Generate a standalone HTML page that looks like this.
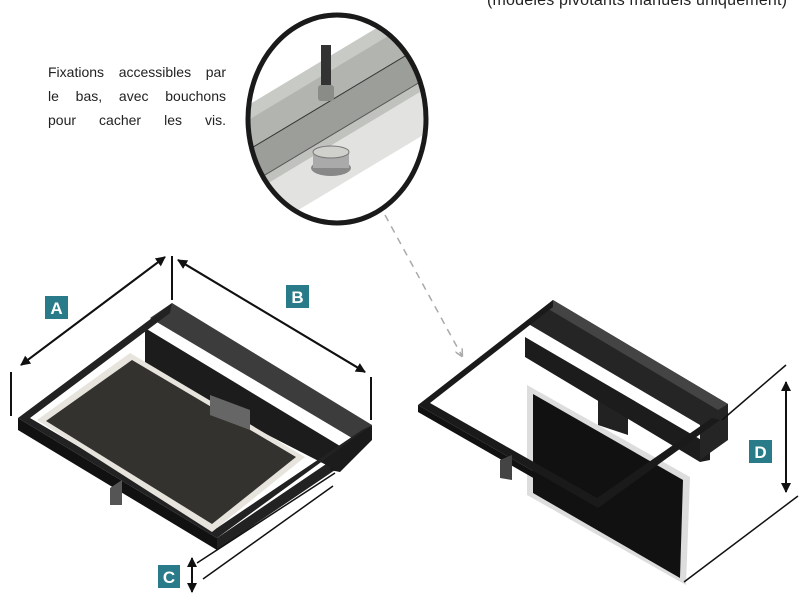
<!DOCTYPE html>
<html><head><meta charset="utf-8"><style>
html,body{margin:0;padding:0;background:#fff;}
svg{display:block;position:absolute;left:0;top:0}
.p{position:absolute;left:48px;top:60px;width:178px;font-family:"Liberation Sans",sans-serif;font-size:14px;line-height:24px;color:#222;z-index:2}
.p div{text-align:justify;text-align-last:justify;height:24px}
.top{position:absolute;left:487px;top:-9px;font-family:"Liberation Sans",sans-serif;font-size:16px;line-height:20px;color:#222;white-space:nowrap;letter-spacing:0.2px;z-index:2}
.lab{font-family:"Liberation Sans",sans-serif;font-size:17px;font-weight:bold;fill:#fff}
</style></head><body>
<div class="top">(modèles pivotants manuels uniquement)</div>
<div class="p"><div>Fixations accessibles par</div><div>le bas, avec bouchons</div><div>pour cacher les vis.</div></div>
<svg width="800" height="600" viewBox="0 0 800 600" xmlns="http://www.w3.org/2000/svg">
<defs>
<marker id="ar" markerWidth="10" markerHeight="10" refX="9" refY="5" orient="auto" markerUnits="userSpaceOnUse"><path d="M0,0 L10,5 L0,10 z" fill="#111"/></marker>
<marker id="ag" markerWidth="8" markerHeight="8" refX="7" refY="4" orient="auto" markerUnits="userSpaceOnUse"><path d="M0,0 L8,4 L0,8" fill="none" stroke="#aaa" stroke-width="1.5"/></marker>
<clipPath id="cc"><ellipse cx="337" cy="119" rx="89" ry="104"/></clipPath>
</defs>

<g clip-path="url(#cc)">
<rect x="240" y="10" width="200" height="220" fill="#fff"/>
<polygon points="240,110 440,-10 440,40 240,160" fill="#c8cac6"/>
<polygon points="240,125 440,5 440,75 240,195" fill="#b2b4b0"/>
<polygon points="240,155 440,35 440,110 240,230" fill="#9c9e9a"/>
<polygon points="240,190 440,70 440,120 240,240" fill="#c0c2be"/>
<polygon points="240,200 440,80 440,125 240,245" fill="#e2e3e0"/>
<line x1="240" y1="155" x2="440" y2="35" stroke="#333" stroke-width="1"/>
<line x1="240" y1="190" x2="440" y2="70" stroke="#555" stroke-width="1"/>
<rect x="321" y="45" width="10" height="42" fill="#333"/>
<rect x="318" y="85" width="16" height="16" rx="3" fill="#8a8c88"/>
<ellipse cx="331" cy="168" rx="20" ry="8" fill="#888"/>
<rect x="313" y="152" width="36" height="16" fill="#aaa"/>
<ellipse cx="331" cy="152" rx="18" ry="6" fill="#d0d0cc" stroke="#777"/>
</g>
<ellipse cx="337" cy="119" rx="89" ry="104" fill="none" stroke="#1a1a1a" stroke-width="5"/>
<line x1="385" y1="215" x2="462" y2="356" stroke="#aaa" stroke-width="1.5" stroke-dasharray="7,6" marker-end="url(#ag)"/>

<polygon points="18,418 18,430 217,550 217,538" fill="#111"/>
<polygon points="217,550 217,538 335,458 335,470" fill="#222"/>
<polygon points="335,450 372,425 372,440 340,472 330,470" fill="#1a1a1a"/>
<polygon points="145,328 340,446 340,472 145,372" fill="#1c1c1c"/>
<polygon points="172,303 372,425 352,438 150,318" fill="#3c3c3c"/>
<polygon points="172,303 18,418 217,538 372,425 362,430 217,528 30,418 170,313" fill="#222"/>
<polygon points="130,353 37,420 212,532 305,457" fill="#e6e4dc"/>
<polygon points="132,360 46,421 212,524 296,457" fill="#33322e"/>
<polygon points="210,395 250,410 250,430 210,415" fill="#666"/>
<polygon points="110,488 122,480 122,505 110,505" fill="#555"/>

<line x1="21" y1="365" x2="165" y2="257" stroke="#111" stroke-width="2" marker-end="url(#ar)"/>
<line x1="165" y1="257" x2="21" y2="365" stroke="#111" stroke-width="2" marker-end="url(#ar)"/>
<line x1="11" y1="372" x2="11" y2="416" stroke="#111" stroke-width="2"/>
<line x1="172" y1="256" x2="172" y2="300" stroke="#111" stroke-width="2"/>
<line x1="178" y1="260" x2="365" y2="372" stroke="#111" stroke-width="2" marker-end="url(#ar)"/>
<line x1="365" y1="372" x2="178" y2="260" stroke="#111" stroke-width="2" marker-end="url(#ar)"/>
<line x1="371" y1="377" x2="371" y2="420" stroke="#111" stroke-width="2"/>
<line x1="197" y1="563" x2="335" y2="473" stroke="#111" stroke-width="1.5"/>
<line x1="203" y1="579" x2="333" y2="486" stroke="#111" stroke-width="1.5"/>
<line x1="192" y1="558" x2="192" y2="592" stroke="#111" stroke-width="2" marker-end="url(#ar)"/>
<line x1="192" y1="592" x2="192" y2="558" stroke="#111" stroke-width="2" marker-end="url(#ar)"/>
<rect x="45" y="296" width="23" height="23" fill="#2a7b8a"/><text class="lab" x="56.5" y="314" text-anchor="middle">A</text>
<rect x="286" y="285" width="23" height="23" fill="#2a7b8a"/><text class="lab" x="297.5" y="303" text-anchor="middle">B</text>
<rect x="158" y="565" width="22" height="23" fill="#2a7b8a"/><text class="lab" x="169" y="583" text-anchor="middle">C</text>

<polygon points="527,385 690,477 686,585 527,495" fill="#ddd"/>
<polygon points="533,394 683,480 680,578 533,493" fill="#111"/>
<polygon points="598,395 628,405 628,435 598,425" fill="#222"/>
<polygon points="525,337 710,445 710,460 700,462 525,357" fill="#1c1c1c"/>
<polygon points="553,300 728,404 728,440 700,460 700,425 525,322" fill="#252525"/>
<polygon points="553,300 728,404 718,410 545,307" fill="#444"/>
<polygon points="553,300 418,405 598,508 720,420 712,418 597,498 430,403 553,307" fill="#1a1a1a"/>
<polygon points="418,405 418,412 598,515 598,508" fill="#111"/>
<polygon points="500,460 512,455 512,480 500,478" fill="#444"/>

<line x1="722" y1="420" x2="786" y2="365" stroke="#111" stroke-width="1.5"/>
<line x1="684" y1="582" x2="798" y2="496" stroke="#111" stroke-width="1.5"/>
<line x1="786" y1="382" x2="786" y2="492" stroke="#111" stroke-width="2" marker-end="url(#ar)"/>
<line x1="786" y1="492" x2="786" y2="382" stroke="#111" stroke-width="2" marker-end="url(#ar)"/>
<rect x="749" y="440" width="23" height="23" fill="#2a7b8a"/><text class="lab" x="760.5" y="458" text-anchor="middle">D</text>
</svg>
</body></html>
